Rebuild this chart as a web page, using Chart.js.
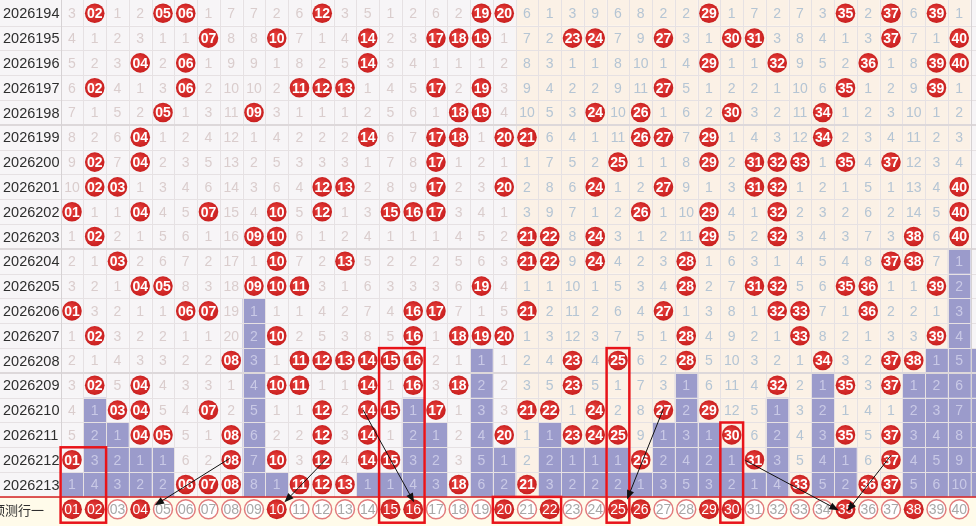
<!DOCTYPE html>
<html>
<head>
<meta charset="utf-8">
<title>走势图</title>
<script src="https://cdn.jsdelivr.net/npm/chart.js@4.4.1/dist/chart.umd.min.js"></script>
<style>
  html, body { margin: 0; padding: 0; background: #fff; overflow: hidden; }
  canvas { display: block; }
</style>
</head>
<body>
<canvas id="trend" width="976" height="526"></canvas>
<script>
// periods (rows) and number columns
var periods = ['2026194','2026195','2026196','2026197','2026198','2026199','2026200','2026201','2026202','2026203',
               '2026204','2026205','2026206','2026207','2026208','2026209','2026210','2026211','2026212','2026213'];
var numbers = ['01','02','03','04','05','06','07','08','09','10','11','12','13','14','15','16','17','18','19','20',
               '21','22','23','24','25','26','27','28','29','30','31','32','33','34','35','36','37','38','39','40'];

// omission per cell, 0 = number drawn that period
var omission = [
  [3,0,1,2,0,0,1,7,7,2,6,0,3,5,1,2,6,2,0,0, 6,1,3,9,6,8,2,2,0,1,7,2,7,3,0,2,0,6,0,1],
  [4,1,2,3,1,1,0,8,8,0,7,1,4,0,2,3,0,0,0,1, 7,2,0,0,7,9,0,3,1,0,0,3,8,4,1,3,0,7,1,0],
  [5,2,3,0,2,0,1,9,9,1,8,2,5,0,3,4,1,1,1,2, 8,3,1,1,8,10,1,4,0,1,1,0,9,5,2,0,1,8,0,0],
  [6,0,4,1,3,0,2,10,10,2,0,0,0,1,4,5,0,2,0,3, 9,4,2,2,9,11,0,5,1,2,2,1,10,6,0,1,2,9,0,1],
  [7,1,5,2,0,1,3,11,0,3,1,1,1,2,5,6,1,0,0,4, 10,5,3,0,10,0,1,6,2,0,3,2,11,0,1,2,3,10,1,2],
  [8,2,6,0,1,2,4,12,1,4,2,2,2,0,6,7,0,0,1,0, 0,6,4,1,11,0,0,7,0,1,4,3,12,0,2,3,4,11,2,3],
  [9,0,7,0,2,3,5,13,2,5,3,3,3,1,7,8,0,1,2,1, 1,7,5,2,0,1,1,8,0,2,0,0,0,1,0,4,0,12,3,4],
  [10,0,0,1,3,4,6,14,3,6,4,0,0,2,8,9,0,2,3,0, 2,8,6,0,1,2,0,9,1,3,0,0,1,2,1,5,1,13,4,0],
  [0,1,1,0,4,5,0,15,4,0,5,0,1,3,0,0,0,3,4,1, 3,9,7,1,2,0,1,10,0,4,1,0,2,3,2,6,2,14,5,0],
  [1,0,2,1,5,6,1,16,0,0,6,1,2,4,1,1,1,4,5,2, 0,0,8,0,3,1,2,11,0,5,2,0,3,4,3,7,3,0,6,0],
  [2,1,0,2,6,7,2,17,1,0,7,2,0,5,2,2,2,5,6,3, 0,0,9,0,4,2,3,0,1,6,3,1,4,5,4,8,0,0,7,1],
  [3,2,1,0,0,8,3,18,0,0,0,3,1,6,3,3,3,6,0,4, 1,1,10,1,5,3,4,0,2,7,0,0,5,6,0,0,1,1,0,2],
  [0,3,2,1,1,0,0,19,1,1,1,4,2,7,4,0,0,7,1,5, 0,2,11,2,6,4,0,1,3,8,1,0,0,7,1,0,2,2,1,3],
  [1,0,3,2,2,1,1,20,2,0,2,5,3,8,5,0,1,0,0,0, 1,3,12,3,7,5,1,0,4,9,2,1,0,8,2,1,3,3,0,4],
  [2,1,4,3,3,2,2,0,3,1,0,0,0,0,0,0,2,1,1,1, 2,4,0,4,0,6,2,0,5,10,3,2,1,0,3,2,0,0,1,5],
  [3,0,5,0,4,3,3,1,4,0,0,1,1,0,1,0,3,0,2,2, 3,5,0,5,1,7,3,1,6,11,4,0,2,1,0,3,0,1,2,6],
  [4,1,0,0,5,4,0,2,5,1,1,0,2,0,0,1,0,1,3,3, 0,0,1,0,2,8,0,2,0,12,5,1,3,2,1,4,1,2,3,7],
  [5,2,1,0,0,5,1,0,6,2,2,0,3,0,1,2,1,2,4,0, 1,1,0,0,0,9,1,3,1,0,6,2,4,3,0,5,0,3,4,8],
  [0,3,2,1,1,6,2,0,7,0,3,0,4,0,0,3,2,3,5,1, 2,2,1,1,1,0,2,4,2,1,0,3,5,4,1,6,0,4,5,9],
  [1,4,3,2,2,0,0,0,8,1,0,0,0,1,1,4,3,0,6,2, 0,3,2,2,2,1,3,5,3,2,1,4,0,5,2,0,0,5,6,10]
];

// prediction row
var predLabel = '预测行一';
var predPicks = [1,2,4,10,15,16,20,22,25,26,29,30,35,38];

// red frames: [first col, last col, first row, last row]  (row 20 = prediction row)
var boxes = [[1,2,18,20],[15,16,14,20],[20,22,20,20],[25,25,14,20],[30,30,17,20]];
// arrows in data units: [col, row] -> [col, row]
var arrows = [[7.93,17.95,4.64,19.84],[12.2,17.95,10.34,19.72],[13.8,16.0,16.04,19.72],
              [27.0,15.94,25.4,19.6],[30.6,18.03,34.7,20.04],[37.0,17.83,35.08,20.08]];

var PRED_ROW = periods.length;

// last drawn row per column -> tail omission gets the purple fill
var lastHit = numbers.map(function (n, c) {
  var last = -1;
  omission.forEach(function (row, r) { if (row[c] === 0) last = r; });
  return last;
});

var hitPts = [], predOn = [], predOff = [];
omission.forEach(function (row, r) {
  row.forEach(function (v, c) { if (v === 0) hitPts.push({x: c + 1, y: r}); });
});
numbers.forEach(function (n, c) {
  if (predPicks.indexOf(c + 1) >= 0) predOn.push({x: c + 1, y: PRED_ROW});
  else predOff.push({x: c + 1, y: PRED_ROW});
});

function ballFill(c) {
  var ch = c.chart, p = c.raw;
  if (!p || !ch.chartArea) return '#d42a2a';
  var x = ch.scales.x.getPixelForValue(p.x), y = ch.scales.y.getPixelForValue(p.y);
  var g = ch.ctx.createRadialGradient(x - 3, y - 3, 1, x, y, 10);
  g.addColorStop(0, '#e8413d');
  g.addColorStop(1, '#c91f1f');
  return g;
}

function crisp(v) { return Math.round(v) + 0.5; }

var cellsPlugin = {
  id: 'cells',
  beforeDatasetsDraw: function (chart) {
    var ctx = chart.ctx, xs = chart.scales.x, ys = chart.scales.y, area = chart.chartArea;
    var W = chart.width;
    var top0 = ys.getPixelForValue(-0.5), gridBottom = ys.getPixelForValue(PRED_ROW - 0.5);
    ctx.save();
    ctx.fillStyle = '#fff';
    ctx.fillRect(0, 0, W, chart.height);
    // label column
    ctx.fillStyle = '#f7f5f7';
    ctx.fillRect(0, 0, xs.getPixelForValue(0.5), gridBottom);
    // cells
    for (var r = 0; r < periods.length; r++) {
      var t = ys.getPixelForValue(r - 0.5), b = ys.getPixelForValue(r + 0.5);
      if (r === 0) t = 0;
      for (var c = 1; c <= numbers.length; c++) {
        var l = xs.getPixelForValue(c - 0.5), rt = xs.getPixelForValue(c + 0.5);
        var purple = r > lastHit[c - 1];
        ctx.fillStyle = purple ? '#9b9bcb' : (c <= 20 ? '#f7f5f7' : '#fbf1e6');
        ctx.fillRect(l, t, rt - l, b - t);
      }
      // next section sliver past column 40
      ctx.fillStyle = r >= 14 ? '#9b9bcb' : '#f7f5f7';
      ctx.fillRect(area.right, t, W - area.right, b - t);
    }
    // prediction row band
    var pt = ys.getPixelForValue(PRED_ROW - 0.5);
    ctx.fillStyle = '#fffbea';
    ctx.fillRect(0, pt, W, chart.height - pt);

    // grid
    ctx.lineWidth = 1;
    ctx.strokeStyle = '#e6e1e3';
    ctx.beginPath();
    for (var k = 1; k <= numbers.length; k++) {
      var gx = crisp(xs.getPixelForValue(k + 0.5));
      ctx.moveTo(gx, 0); ctx.lineTo(gx, gridBottom);
    }
    for (var j = 0; j < periods.length; j++) {
      var gy = crisp(ys.getPixelForValue(j + 0.5));
      ctx.moveTo(0, gy); ctx.lineTo(W, gy);
    }
    ctx.stroke();
    // group lines every five periods
    ctx.lineWidth = 2;
    ctx.strokeStyle = '#ddd8da';
    ctx.beginPath();
    [4.5, 9.5, 14.5].forEach(function (v) {
      var gy = Math.round(ys.getPixelForValue(v));
      ctx.moveTo(0, gy); ctx.lineTo(W, gy);
    });
    ctx.stroke();
    // separators
    ctx.lineWidth = 1;
    ctx.strokeStyle = '#d6d2d4';
    ctx.beginPath();
    var sx = crisp(xs.getPixelForValue(0.5));
    ctx.moveTo(sx, 0); ctx.lineTo(sx, gridBottom);
    var ex = crisp(area.right);
    ctx.moveTo(ex, 0); ctx.lineTo(ex, gridBottom);
    ctx.stroke();
    // red line above prediction row
    ctx.strokeStyle = '#d62020';
    ctx.lineWidth = 1.5;
    ctx.beginPath();
    ctx.moveTo(0, pt); ctx.lineTo(W, pt);
    ctx.stroke();
    ctx.restore();
  },
  afterDatasetsDraw: function (chart) {
    var ctx = chart.ctx, xs = chart.scales.x, ys = chart.scales.y;
    ctx.save();
    ctx.textBaseline = 'middle';
    // period labels
    ctx.textAlign = 'left';
    ctx.fillStyle = '#2e2e2e';
    ctx.font = '14.5px "Liberation Sans", Arial, sans-serif';
    periods.forEach(function (p, r) { ctx.fillText(p, 3, ys.getPixelForValue(r) + 1); });
    ctx.font = '13px "Noto Sans CJK SC", sans-serif';
    ctx.fillText(predLabel, -8, ys.getPixelForValue(PRED_ROW) + 1);

    // cell numbers
    ctx.textAlign = 'center';
    omission.forEach(function (row, r) {
      var y = ys.getPixelForValue(r) + 1;
      row.forEach(function (v, c) {
        var x = xs.getPixelForValue(c + 1);
        if (v === 0) {
          ctx.font = 'bold 14px "Liberation Sans", Arial, sans-serif';
          ctx.fillStyle = '#ffffff';
          ctx.fillText(numbers[c], x, y);
        } else {
          ctx.font = '14px "Liberation Sans", Arial, sans-serif';
          ctx.fillStyle = r > lastHit[c] ? '#c9c9e6' : (c < 20 ? '#dacdcd' : '#b5c5d4');
          ctx.fillText(String(v), x, y);
        }
      });
    });
    // prediction row numbers
    var py = ys.getPixelForValue(PRED_ROW) + 1;
    ctx.font = '14px "Liberation Sans", Arial, sans-serif';
    numbers.forEach(function (n, c) {
      ctx.fillStyle = predPicks.indexOf(c + 1) >= 0 ? '#ffffff' : '#a8a8a8';
      ctx.fillText(n, xs.getPixelForValue(c + 1), py);
    });

    // red frames
    ctx.strokeStyle = '#e8141a';
    ctx.lineWidth = 2.5;
    boxes.forEach(function (bx) {
      var l = xs.getPixelForValue(bx[0] - 0.5), rr = xs.getPixelForValue(bx[1] + 0.5);
      var t = ys.getPixelForValue(bx[2] - 0.5), b = ys.getPixelForValue(bx[3] + 0.5) + 1;
      ctx.strokeRect(l, t, rr - l, b - t);
    });

    // arrows
    ctx.strokeStyle = '#111';
    ctx.fillStyle = '#111';
    ctx.lineWidth = 1;
    arrows.forEach(function (a) {
      var x0 = xs.getPixelForValue(a[0]), y0 = ys.getPixelForValue(a[1]);
      var x1 = xs.getPixelForValue(a[2]), y1 = ys.getPixelForValue(a[3]);
      var ang = Math.atan2(y1 - y0, x1 - x0), len = 10, spread = 0.38;
      ctx.beginPath();
      ctx.moveTo(x0, y0);
      ctx.lineTo(x1 - Math.cos(ang) * len * 0.8, y1 - Math.sin(ang) * len * 0.8);
      ctx.stroke();
      ctx.beginPath();
      ctx.moveTo(x1, y1);
      ctx.lineTo(x1 - len * Math.cos(ang - spread), y1 - len * Math.sin(ang - spread));
      ctx.lineTo(x1 - len * Math.cos(ang + spread), y1 - len * Math.sin(ang + spread));
      ctx.closePath();
      ctx.fill();
    });
    ctx.restore();
  }
};

new Chart(document.getElementById('trend'), {
  type: 'scatter',
  data: {
    datasets: [
      { data: hitPts, pointRadius: 9.8, pointHoverRadius: 9.8, backgroundColor: ballFill, borderWidth: 0 },
      { data: predOn, pointRadius: 10, pointHoverRadius: 10, backgroundColor: ballFill, borderWidth: 0 },
      { data: predOff, pointRadius: 9.5, pointHoverRadius: 9.5, backgroundColor: '#ffffff',
        borderColor: '#e27c7c', borderWidth: 1.5 }
    ]
  },
  options: {
    responsive: false,
    animation: false,
    events: [],
    layout: { autoPadding: false, padding: { left: 60.6, right: 5.4, top: 0.9, bottom: 4.3 } },
    plugins: { legend: { display: false }, tooltip: { enabled: false } },
    scales: {
      x: { type: 'linear', min: 0.5, max: 40.5, display: false },
      y: { type: 'linear', min: -0.5, max: 20.5, reverse: true, display: false }
    }
  },
  plugins: [cellsPlugin]
});
</script>
</body>
</html>
